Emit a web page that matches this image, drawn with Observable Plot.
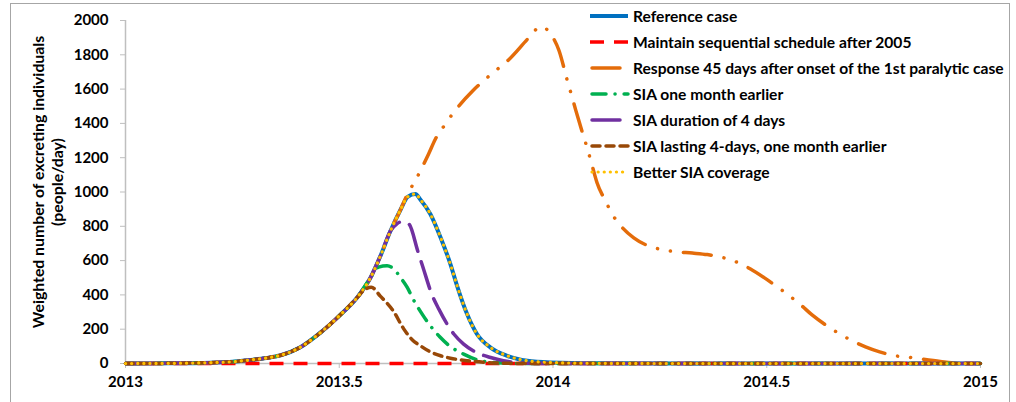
<!DOCTYPE html>
<html>
<head>
<meta charset="utf-8">
<script src="https://cdn.jsdelivr.net/npm/d3@7"></script>
<script src="https://cdn.jsdelivr.net/npm/@observablehq/plot@0.6"></script>
<style>
  html, body { margin: 0; padding: 0; background: #fff; }
  #wrap { position: relative; width: 1016px; height: 402px; overflow: hidden; font-family: Lato, "Open Sans", sans-serif; font-weight: 700; color: #000; }
  #frame { position: absolute; left: 10px; top: 3px; width: 1000px; height: 430px; border: 1px solid #a6a6a6; box-sizing: border-box; pointer-events: none; }
  #chart { position: absolute; left: 0; top: 0; }
  #chart svg [aria-label$="axis tick"] { stroke: #bfbfbf; }
  .ytitle { position: absolute; top: 182px; transform: translate(-50%, -50%) rotate(-90deg); white-space: nowrap; font-size: 15.8px; }
  #legend { position: absolute; left: 590px; top: 0; }
  .item { position: absolute; left: 0; height: 20px; white-space: nowrap; font-size: 15.6px; display: flex; align-items: center; }
  .item svg { margin-right: 3px; }
</style>
</head>
<body>
<div id="wrap">
  <div id="chart"></div>
  <div class="ytitle" style="left:37px">Weighted number of excreting individuals</div>
  <div class="ytitle" style="left:56px">(people/day)</div>
  <div id="legend"></div>
  <div id="frame"></div>
</div>
<script>
// ---- Data ----
const xTicks = [2013, 2013.5, 2014, 2014.5, 2015];
const xTickLabels = ["2013", "2013.5", "2014", "2014.5", "2015"];
const yTicks = [0, 200, 400, 600, 800, 1000, 1200, 1400, 1600, 1800, 2000];

const seriesNames = [
  "Reference case",
  "Maintain sequential schedule after 2005",
  "Response 45 days after onset of the 1st paralytic case",
  "SIA one month earlier",
  "SIA duration of 4 days",
  "SIA lasting 4-days, one month earlier",
  "Better SIA coverage"
];

const refT = [2013.00, 2013.10, 2013.20, 2013.25, 2013.29, 2013.33, 2013.363, 2013.409, 2013.456, 2013.503, 2013.542, 2013.573, 2013.596, 2013.620, 2013.643, 2013.660, 2013.678, 2013.690, 2013.713, 2013.737, 2013.760, 2013.776, 2013.799, 2013.822, 2013.854, 2013.893, 2013.940, 2013.994, 2014.10, 2014.30, 2014.60, 2015.00];
const refV = [0, 1, 5, 10, 20, 32, 48, 95, 180, 285, 385, 500, 625, 774, 895, 972, 988, 955, 872, 735, 580, 450, 288, 172, 93, 45, 16, 6, 1, 0, 0, 0];

const redT = [2013.00, 2014.00, 2015.00];
const redV = [0, 0, 0];

const orangeT = [2013.00, 2013.10, 2013.20, 2013.25, 2013.29, 2013.33, 2013.363, 2013.409, 2013.456, 2013.503, 2013.542, 2013.573, 2013.596, 2013.620, 2013.643, 2013.660, 2013.678, 2013.709, 2013.725, 2013.746, 2013.768, 2013.813, 2013.840, 2013.869, 2013.897, 2013.945, 2013.971, 2013.998, 2014.014, 2014.033, 2014.043, 2014.053, 2014.064, 2014.084, 2014.092, 2014.103, 2014.123, 2014.138, 2014.160, 2014.189, 2014.247, 2014.287, 2014.326, 2014.361, 2014.427, 2014.462, 2014.493, 2014.524, 2014.579, 2014.606, 2014.637, 2014.669, 2014.731, 2014.764, 2014.801, 2014.836, 2014.906, 2014.950, 2015.00];
const orangeV = [0, 1, 5, 10, 20, 32, 48, 95, 180, 285, 385, 500, 625, 774, 895, 990, 1067, 1222, 1309, 1388, 1465, 1592, 1654, 1714, 1773, 1903, 1965, 1909, 1825, 1654, 1568, 1479, 1386, 1222, 1150, 1054, 947, 873, 798, 732, 668, 652, 644, 635, 594, 551, 502, 448, 343, 283, 226, 175, 97, 68, 45, 35, 12, 2, 0];

const greenT = [2013.00, 2013.10, 2013.20, 2013.25, 2013.29, 2013.33, 2013.363, 2013.409, 2013.456, 2013.503, 2013.542, 2013.573, 2013.592, 2013.612, 2013.630, 2013.643, 2013.659, 2013.674, 2013.694, 2013.713, 2013.735, 2013.760, 2013.791, 2013.825, 2013.870, 2013.930, 2014.00, 2014.50, 2015.00];
const greenV = [0, 1, 5, 10, 20, 32, 48, 95, 180, 285, 385, 500, 562, 570, 545, 502, 444, 370, 288, 220, 156, 99, 55, 20, 4, 0, 0, 0, 0];

const purpleT = [2013.00, 2013.10, 2013.20, 2013.25, 2013.29, 2013.33, 2013.363, 2013.409, 2013.456, 2013.503, 2013.542, 2013.573, 2013.596, 2013.620, 2013.635, 2013.648, 2013.663, 2013.684, 2013.696, 2013.717, 2013.733, 2013.768, 2013.791, 2013.820, 2013.854, 2013.884, 2013.940, 2014.00, 2014.50, 2015.00];
const purpleV = [0, 1, 5, 10, 20, 32, 48, 95, 180, 285, 385, 500, 625, 774, 815, 828, 813, 653, 560, 400, 317, 172, 113, 65, 35, 16, 2, 0, 0, 0];

const brownT = [2013.00, 2013.10, 2013.20, 2013.25, 2013.29, 2013.33, 2013.363, 2013.409, 2013.456, 2013.503, 2013.542, 2013.560, 2013.575, 2013.596, 2013.628, 2013.650, 2013.670, 2013.690, 2013.713, 2013.737, 2013.760, 2013.800, 2013.850, 2013.900, 2013.950, 2014.50, 2015.00];
const brownV = [0, 1, 5, 10, 20, 32, 48, 95, 180, 285, 385, 432, 445, 393, 300, 205, 140, 103, 68, 45, 31, 16, 5, 1, 0, 0, 0];

const betterT = [2013.00, 2013.10, 2013.20, 2013.25, 2013.29, 2013.33, 2013.363, 2013.409, 2013.456, 2013.503, 2013.542, 2013.573, 2013.596, 2013.620, 2013.643, 2013.660, 2013.678, 2013.690, 2013.713, 2013.737, 2013.760, 2013.776, 2013.799, 2013.822, 2013.854, 2013.893, 2013.940, 2013.994, 2014.10, 2014.30, 2014.60, 2015.00];
const betterV = [0, 1, 5, 10, 20, 32, 48, 95, 180, 285, 385, 500, 625, 774, 895, 972, 988, 955, 872, 735, 580, 450, 288, 172, 93, 45, 16, 6, 1, 0, 0, 0];

// ---- Styles (kept apart from data) ----
const styles = [
  {t: refT,    v: refV,    color: "#0070C0", width: 4,   dash: null,                  cap: "butt"},
  {t: redT,    v: redV,    color: "#FF0000", width: 3.5, dash: "14,10",               cap: "butt"},
  {t: orangeT, v: orangeV, color: "#E46C0A", width: 3.5, dash: "28,13,0.1,13,0.1,13", cap: "round"},
  {t: greenT,  v: greenV,  color: "#00B050", width: 3.5, dash: "14,9,0.1,9",          cap: "round"},
  {t: purpleT, v: purpleV, color: "#7030A0", width: 3.5, dash: "28,11",               cap: "round"},
  {t: brownT,  v: brownV,  color: "#984807", width: 3.5, dash: "8,6",                 cap: "round"},
  {t: betterT, v: betterV, color: "#FFC000", width: 3.2, dash: "0.1,6",               cap: "round"}
];

const lineMarks = styles.map((s, i) => {
  const data = s.t.map((t, j) => ({t, v: s.v[j], series: seriesNames[i]}));
  return Plot.line(data, {
    x: "t", y: "v", curve: "monotone-x",
    stroke: s.color, strokeWidth: s.width,
    strokeDasharray: s.dash || undefined, strokeLinecap: s.cap, strokeLinejoin: "round"
  });
});

const chart = Plot.plot({
  width: 1016,
  height: 402,
  marginLeft: 125,
  marginRight: 36,
  marginTop: 20,
  marginBottom: 39,
  style: {fontFamily: "Lato, 'Open Sans', sans-serif", fontWeight: 700, fontSize: "15px", color: "#000", background: "transparent"},
  x: {domain: [2013, 2015]},
  y: {domain: [0, 2000]},
  marks: [
    Plot.axisX({ticks: xTicks, tickFormat: d => xTickLabels[xTicks.indexOf(d)], tickSize: 5, tickPadding: 8, label: null}),
    Plot.axisY({ticks: yTicks, tickFormat: d => String(d), tickSize: 5, tickPadding: 12, label: null}),
    Plot.ruleX([2013], {stroke: "#bfbfbf", strokeWidth: 1.5}),
    Plot.ruleY([0], {stroke: "#bfbfbf", strokeWidth: 1.5}),
    ...lineMarks
  ]
});
document.getElementById("chart").appendChild(chart);

// ---- Legend ----
const legend = document.getElementById("legend");
styles.forEach((s, i) => {
  const div = document.createElement("div");
  div.className = "item";
  div.style.top = (6 + i * 26) + "px";
  const ns = "http://www.w3.org/2000/svg";
  const svg = document.createElementNS(ns, "svg");
  svg.setAttribute("width", 40); svg.setAttribute("height", 10);
  const ln = document.createElementNS(ns, "line");
  ln.setAttribute("x1", s.cap === "round" ? 2 : 0); ln.setAttribute("x2", 38);
  ln.setAttribute("y1", 5); ln.setAttribute("y2", 5);
  ln.setAttribute("stroke", s.color); ln.setAttribute("stroke-width", s.width);
  ln.setAttribute("stroke-linecap", s.cap);
  if (s.dash) ln.setAttribute("stroke-dasharray", s.dash);
  svg.appendChild(ln);
  div.appendChild(svg);
  div.appendChild(document.createTextNode(seriesNames[i]));
  legend.appendChild(div);
});
</script>
</body>
</html>
